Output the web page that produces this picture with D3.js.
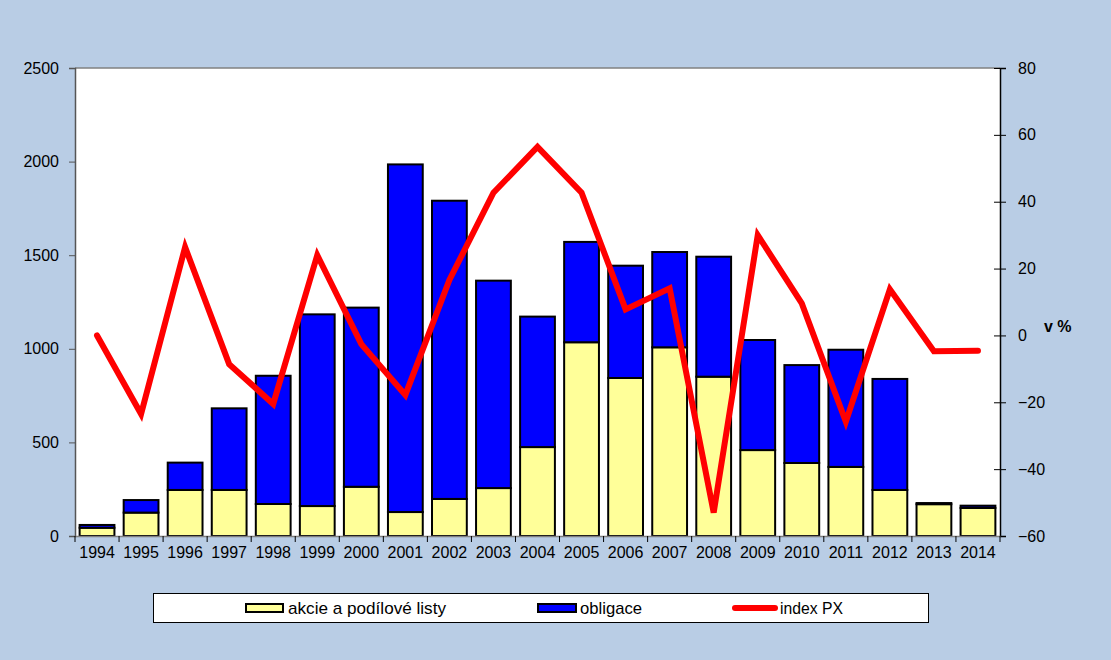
<!DOCTYPE html>
<html><head><meta charset="utf-8">
<script src="https://cdn.jsdelivr.net/npm/d3@7"></script>
<style>
html,body{margin:0;padding:0;background:#b9cde5;}
svg{display:block;}
text{font-family:"Liberation Sans",Arial,sans-serif;}
</style></head>
<body>
<svg id="c" width="1111" height="660"></svg>
<script>
const years = ["1994","1995","1996","1997","1998","1999","2000","2001","2002","2003","2004","2005","2006","2007","2008","2009","2010","2011","2012","2013","2014"];
const akcie = [44,125,246,246,171,160,263,128,198,256,475,1035,844,1008,851,459,390,369,246,170,150];
const obligace = [15,67,146,436,685,1024,957,1857,1593,1108,697,536,600,509,641,588,523,626,593,6,12];
const indexPX = [0,-23.5,26.4,-8.6,-20.5,24.0,-2.6,-17.8,16.6,42.7,56.4,42.7,7.8,14.1,-53,30.0,9.6,-25.8,13.8,-4.7,-4.6];
const leftTicks = [0,500,1000,1500,2000,2500];
const rightTicks = [-60,-40,-20,0,20,40,60,80];
const legendLabels = ["akcie a podílové listy","obligace","index PX"];

const svg = d3.select("#c");
const L=75, R=1000, T=68, B=536;
svg.append("rect").attr("x",L).attr("y",T).attr("width",R-L).attr("height",B-T).attr("fill","#fff");

const x = d3.scaleBand().domain(years).range([L,R]).paddingInner(0.21).paddingOuter(0.105);
const y = d3.scaleLinear().domain([0,2500]).range([B,T]);
const y2 = d3.scaleLinear().domain([-60,80]).range([B,T]);

svg.append("line").attr("x1",L).attr("x2",R).attr("y1",T).attr("y2",T).attr("stroke","#808080").attr("stroke-width",1.5);

const g = svg.append("g");
years.forEach((yr,i)=>{
  g.append("rect").attr("x",x(yr)).attr("width",x.bandwidth())
   .attr("y",y(akcie[i])).attr("height",y(0)-y(akcie[i]))
   .attr("fill","#ffff99").attr("stroke","#000").attr("stroke-width",2);
  g.append("rect").attr("x",x(yr)).attr("width",x.bandwidth())
   .attr("y",y(akcie[i]+obligace[i])).attr("height",y(akcie[i])-y(akcie[i]+obligace[i]))
   .attr("fill","#0000ff").attr("stroke","#000").attr("stroke-width",2);
});

const fontF = "Liberation Sans, Arial, sans-serif";
const la = svg.append("g").attr("transform",`translate(${L},0)`)
  .call(d3.axisLeft(y).tickValues(leftTicks).tickSize(6).tickPadding(10).tickFormat(d3.format("d")));
la.selectAll("path").attr("stroke","#555").attr("stroke-width",1.5);
la.selectAll("line").attr("stroke","#555");
la.selectAll("text").attr("font-size",16).attr("fill","#000").attr("font-family",fontF);

const ra = svg.append("g").attr("transform",`translate(${R},0)`)
  .call(d3.axisRight(y2).tickValues(rightTicks).tickSize(6).tickPadding(12).tickFormat(d3.format("d")));
ra.selectAll("path").attr("stroke","#000").attr("stroke-width",1.5);
ra.selectAll(".tick line").attr("x1",-6).attr("x2",6).attr("stroke","#000");
ra.selectAll("text").attr("font-size",16).attr("fill","#000").attr("font-family",fontF);

const xa = svg.append("g").attr("transform",`translate(0,${B})`)
  .call(d3.axisBottom(x).tickSize(0).tickPadding(11));
xa.selectAll("path").attr("stroke","#808080").attr("stroke-width",1.5);
xa.selectAll("text").attr("font-size",16).attr("fill","#000").attr("font-family",fontF);
const bnd = d3.range(years.length+1).map(i=>L+i*(R-L)/years.length);
svg.append("g").selectAll("line").data(bnd).join("line")
  .attr("x1",d=>d).attr("x2",d=>d).attr("y1",B).attr("y2",B+6).attr("stroke","#000");

const line = d3.line().x((d,i)=>x(years[i])+x.bandwidth()/2).y(d=>y2(d));
svg.append("path").datum(indexPX).attr("d",line).attr("fill","none")
  .attr("stroke","#ff0000").attr("stroke-width",6).attr("stroke-linejoin","miter").attr("stroke-linecap","round");

svg.append("text").attr("x",1044).attr("y",332).attr("font-size",16).attr("font-weight","bold").text("v %");

svg.append("rect").attr("x",153.5).attr("y",593.5).attr("width",775).attr("height",29).attr("fill","#fff").attr("stroke","#000").attr("stroke-width",1);
const lf = '"Liberation Sans",Arial,sans-serif';
svg.append("rect").attr("x",246).attr("y",604).attr("width",37).attr("height",8).attr("fill","#ffff99").attr("stroke","#000").attr("stroke-width",2);
svg.append("text").attr("x",288).attr("y",614).attr("font-size",17).attr("font-family",lf)
  .attr("textLength",158).attr("lengthAdjust","spacingAndGlyphs").text(legendLabels[0]);
svg.append("rect").attr("x",538).attr("y",604).attr("width",38).attr("height",8).attr("fill","#0000ff").attr("stroke","#000").attr("stroke-width",2);
svg.append("text").attr("x",580).attr("y",614).attr("font-size",17).attr("font-family",lf)
  .attr("textLength",62).attr("lengthAdjust","spacingAndGlyphs").text(legendLabels[1]);
svg.append("line").attr("x1",735).attr("x2",775).attr("y1",608).attr("y2",608).attr("stroke","#ff0000").attr("stroke-width",6).attr("stroke-linecap","round");
svg.append("text").attr("x",780).attr("y",614).attr("font-size",17).attr("font-family",lf)
  .attr("textLength",63).attr("lengthAdjust","spacingAndGlyphs").text(legendLabels[2]);
</script>
</body></html>
